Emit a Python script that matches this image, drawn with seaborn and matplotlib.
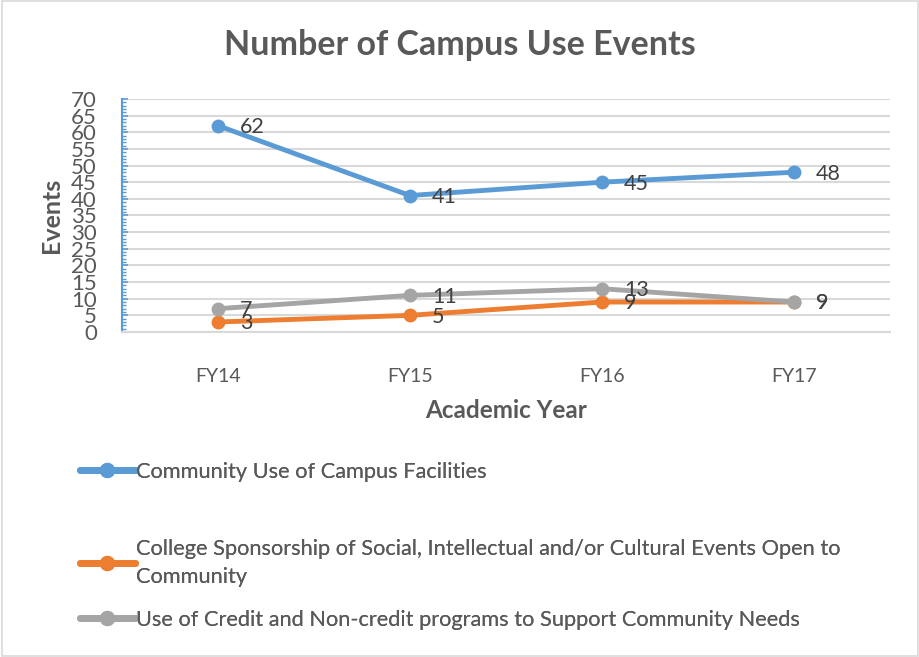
import pandas as pd
import matplotlib
matplotlib.use("Agg")
import matplotlib.pyplot as plt
from matplotlib.patches import Rectangle
from matplotlib.ticker import MultipleLocator
import seaborn as sns

years = ["FY14", "FY15", "FY16", "FY17"]
facilities = [62, 41, 45, 48]
sponsorship = [3, 5, 9, 9]
programs = [7, 11, 13, 9]

series_names = [
    "Community Use of Campus Facilities",
    "College Sponsorship of Social, Intellectual and/or Cultural Events Open to\nCommunity",
    "Use of Credit and Non-credit programs to Support Community Needs",
]
colors = ["#5B9BD5", "#ED7D31", "#A5A5A5"]

sns.set_theme(style="white")
plt.rcParams["font.family"] = ["Lato", "DejaVu Sans"]
text_color = "#595959"

fig = plt.figure(figsize=(9.2, 6.57), dpi=100)
ax = fig.add_axes([0.1326, 0.4947, 0.8344, 0.3546])

for vals, name, col in zip([facilities, sponsorship, programs], series_names, colors):
    df = pd.DataFrame({"year": years, "events": vals})
    sns.lineplot(data=df, x="year", y="events", ax=ax, color=col, label=name,
                 linewidth=3.5, marker="o", markersize=10, markeredgewidth=0)
    for i, v in enumerate(vals):
        ax.annotate(str(v), (i, v), xytext=(16, -1), textcoords="offset points",
                    ha="left", va="center", fontsize=15.5, color="#404040")

ax.set_xlim(-0.5, 3.5)
ax.set_ylim(0, 70)
ax.yaxis.set_major_locator(MultipleLocator(5))
ax.yaxis.set_minor_locator(MultipleLocator(1))
ax.grid(axis="y", color="#D9D9D9", linewidth=1.5)
ax.set_axisbelow(True)
for s in ["top", "right"]:
    ax.spines[s].set_visible(False)
ax.spines["left"].set_color("#5B9BD5")
ax.spines["left"].set_linewidth(1.5)
ax.spines["bottom"].set_color("#D9D9D9")
ax.spines["bottom"].set_linewidth(1.5)
ax.tick_params(axis="y", which="both", direction="in", left=True, color="#5B9BD5",
               labelsize=16, labelcolor=text_color, pad=18)
ax.tick_params(axis="y", which="major", length=4, width=1.2)
ax.tick_params(axis="y", which="minor", length=3, width=1)
ax.tick_params(axis="x", bottom=False, labelsize=14, labelcolor=text_color, pad=20)

ax.set_xlabel("Academic Year", fontsize=17.5, fontweight="bold", color=text_color, labelpad=10)
ax.set_ylabel("Events", fontsize=18, fontweight="bold", color=text_color, labelpad=6)
fig.text(0.5, 0.932, "Number of Campus Use Events", ha="center", va="center",
         fontsize=24.5, fontweight="bold", color=text_color)

handles, labels = ax.get_legend_handles_labels()
ax.get_legend().remove()
legend_y = [472, 563, 620]
for h, lab, y in zip(handles, labels, legend_y):
    lg = fig.legend([h], [lab], loc="center left", bbox_to_anchor=(0.087, 1 - y / 657),
                    frameon=False, fontsize=15.7, handlelength=2.5, handletextpad=0.05,
                    labelcolor=text_color, borderaxespad=0, borderpad=0)
    for t in lg.get_texts():
        t.set_linespacing(1.45)
    for ln in lg.get_lines():
        ln.set_linewidth(5)
        ln.set_markersize(11)
    fig.add_artist(lg)

fig.patches.append(Rectangle((0.002, 0.002), 0.996, 0.996, transform=fig.transFigure,
                             fill=False, edgecolor="#D9D9D9", linewidth=1.2))

fig.savefig("out.png", dpi=100)
